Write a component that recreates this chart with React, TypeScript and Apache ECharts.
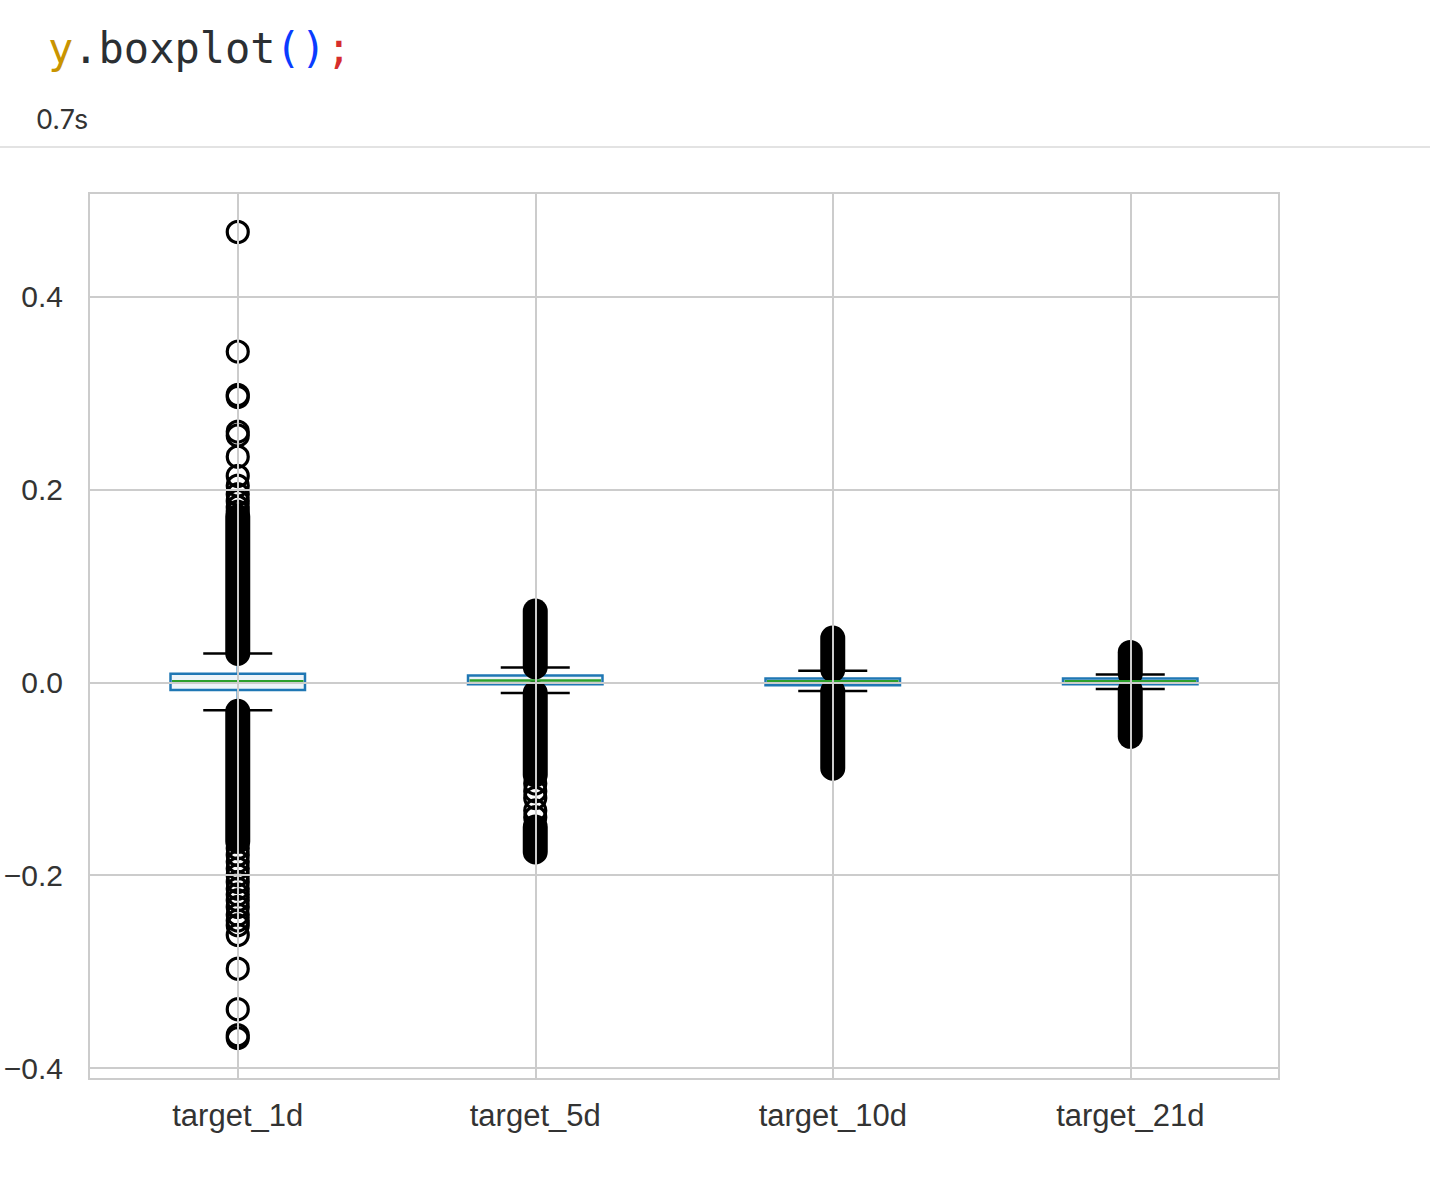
import React, { useEffect, useRef } from "react";
import * as echarts from "echarts";

const categories = ["target_1d", "target_5d", "target_10d", "target_21d"];
const lowerCaps = [-0.029, -0.011, -0.009, -0.007];
const q1Values = [-0.008, -0.002, -0.003, -0.002];
const medianValues = [0.001, 0.002, 0.001, 0.001];
const q3Values = [0.009, 0.007, 0.004, 0.004];
const upperCaps = [0.03, 0.0155, 0.012, 0.008];

// dense runs of overlapping outliers: [category index, lowest value, highest value]
const denseOutlierRuns: [number, number, number][] = [
  [0, 0.03, 0.172],
  [0, -0.165, -0.03],
  [1, 0.016, 0.074],
  [1, -0.096, -0.011],
  [1, -0.176, -0.15],
  [2, 0.013, 0.046],
  [2, -0.089, -0.009],
  [3, 0.009, 0.031],
  [3, -0.056, -0.008],
];

const outliers1d = [
  0.467, 0.343, 0.298, 0.296, 0.26, 0.256, 0.234, 0.214, 0.204, 0.195, 0.188, 0.182, 0.177,
  -0.172, -0.179, -0.186, -0.193, -0.2, -0.207, -0.214, -0.22, -0.226, -0.233, -0.241,
  -0.247, -0.252, -0.262, -0.297, -0.339, -0.366, -0.369,
];
const outliers5d = [-0.105, -0.113, -0.12, -0.133, -0.14];

const yTicks = [-0.4, -0.2, 0, 0.2, 0.4];
const yMin = -0.4114;
const yMax = 0.5075;

export default function App() {
  const ref = useRef<HTMLDivElement>(null);
  useEffect(() => {
    if (!ref.current) return;
    const chart = echarts.init(ref.current, null, { renderer: "svg" });

    const boxData = categories.map((_, i) => [
      i, lowerCaps[i], q1Values[i], medianValues[i], q3Values[i], upperCaps[i],
    ]);
    const scatterData: number[][] = [];
    outliers1d.forEach((v) => scatterData.push([0, v]));
    outliers5d.forEach((v) => scatterData.push([1, v]));

    const BLUE = "#1f77b4";
    const GREEN = "#2ca02c";

    chart.setOption({
      animation: false,
      backgroundColor: "#ffffff",
      graphic: [
        {
          type: "text",
          left: 48,
          top: 27,
          style: {
            text: "{a|y}{b|.boxplot}{c|()}{d|;}",
            rich: {
              a: { fill: "#c99400", fontFamily: "DejaVu Sans Mono", fontSize: 42 },
              b: { fill: "#2b2f33", fontFamily: "DejaVu Sans Mono", fontSize: 42 },
              c: { fill: "#0a3cff", fontFamily: "DejaVu Sans Mono", fontSize: 42 },
              d: { fill: "#d62d2d", fontFamily: "DejaVu Sans Mono", fontSize: 42 },
            },
          },
        },
        {
          type: "text",
          left: 36,
          top: 106,
          style: { text: "0.7s", fill: "#333333", fontFamily: "Inter", fontSize: 27 },
        },
        {
          type: "line",
          shape: { x1: 0, y1: 147, x2: 1430, y2: 147 },
          style: { stroke: "#e3e3e3", lineWidth: 2 },
        },
      ],
      grid: {
        left: 89,
        top: 193,
        width: 1190,
        height: 886,
        show: true,
        borderColor: "#cccccc",
        borderWidth: 2,
        backgroundColor: "#ffffff",
      },
      xAxis: {
        type: "category",
        data: categories,
        boundaryGap: true,
        axisLine: { show: false },
        axisTick: { show: false },
        splitLine: { show: false },
        axisLabel: {
          color: "#333333",
          fontFamily: "Liberation Sans",
          fontSize: 31,
          margin: 21,
        },
      },
      yAxis: {
        type: "value",
        min: yMin,
        max: yMax,
        axisLine: { show: false },
        axisTick: { show: false },
        splitLine: { show: false },
        axisLabel: {
          customValues: yTicks,
          color: "#333333",
          fontFamily: "Liberation Sans",
          fontSize: 30,
          margin: 26,
          formatter: (v: number) => {
            const s = Math.abs(v).toFixed(1);
            return v < -1e-9 ? "\u2212" + s : s;
          },
        },
      },
      series: [
        {
          type: "line",
          data: [],
          silent: true,
          z: 0,
          markLine: {
            silent: true,
            symbol: "none",
            label: { show: false },
            lineStyle: { color: "#cccccc", width: 2, type: "solid" },
            data: [
              ...yTicks.map((v) => ({ yAxis: v })),
              ...categories.map((c) => ({ xAxis: c })),
            ],
          },
        },
        {
          type: "custom",
          z: 2,
          data: boxData,
          encode: { x: 0, y: [1, 2, 3, 4, 5] },
          renderItem: (params: any, api: any) => {
            const i = api.value(0);
            const bw = api.size([1, 0])[0];
            const cx = api.coord([i, 0])[0];
            const yLo = api.coord([i, api.value(1)])[1];
            const yQ1 = api.coord([i, api.value(2)])[1];
            const yQ3 = api.coord([i, api.value(4)])[1];
            const yHi = api.coord([i, api.value(5)])[1];
            const half = bw * 0.226;
            const capHalf = bw * 0.116;
            return {
              type: "group",
              children: [
                { type: "line", shape: { x1: cx, y1: yQ3, x2: cx, y2: yHi }, style: { stroke: BLUE, lineWidth: 2.5 } },
                { type: "line", shape: { x1: cx, y1: yQ1, x2: cx, y2: yLo }, style: { stroke: BLUE, lineWidth: 2.5 } },
                { type: "line", shape: { x1: cx - capHalf, y1: yHi, x2: cx + capHalf, y2: yHi }, style: { stroke: "#000", lineWidth: 2.5 } },
                { type: "line", shape: { x1: cx - capHalf, y1: yLo, x2: cx + capHalf, y2: yLo }, style: { stroke: "#000", lineWidth: 2.5 } },
                {
                  type: "rect",
                  shape: { x: cx - half, y: yQ3, width: half * 2, height: yQ1 - yQ3 },
                  style: { fill: "rgba(31,119,180,0.08)", stroke: BLUE, lineWidth: 2.5 },
                },
              ],
            };
          },
        },
        {
          type: "custom",
          z: 3,
          data: denseOutlierRuns,
          encode: { x: 0, y: [1, 2] },
          renderItem: (params: any, api: any) => {
            const i = api.value(0);
            const cx = api.coord([i, 0])[0];
            const yLo = api.coord([i, api.value(1)])[1];
            const yHi = api.coord([i, api.value(2)])[1];
            const r = 12.5;
            return {
              type: "rect",
              shape: { x: cx - r, y: yHi - r, width: 2 * r, height: yLo - yHi + 2 * r, r: r },
              style: { fill: "#000000" },
            };
          },
        },
        {
          type: "scatter",
          z: 3,
          data: scatterData,
          symbol: "circle",
          symbolSize: 21,
          itemStyle: { color: "rgba(0,0,0,0)", borderColor: "#000000", borderWidth: 3.2, opacity: 1 },
          silent: true,
        },
        {
          type: "custom",
          z: 4,
          data: categories.map((_, i) => [i, medianValues[i]]),
          encode: { x: 0, y: 1 },
          renderItem: (params: any, api: any) => {
            const i = api.value(0);
            const bw = api.size([1, 0])[0];
            const cx = api.coord([i, 0])[0];
            const y = api.coord([i, api.value(1)])[1];
            const half = bw * 0.226 - 1.5;
            return {
              type: "line",
              shape: { x1: cx - half, y1: y, x2: cx + half, y2: y },
              style: { stroke: GREEN, lineWidth: 2.5 },
            };
          },
        },
      ],
    });
    return () => chart.dispose();
  }, []);

  return (
    <div
      ref={ref}
      style={{ position: "absolute", left: 0, top: 0, width: 1430, height: 1186, background: "#fff" }}
    />
  );
}
